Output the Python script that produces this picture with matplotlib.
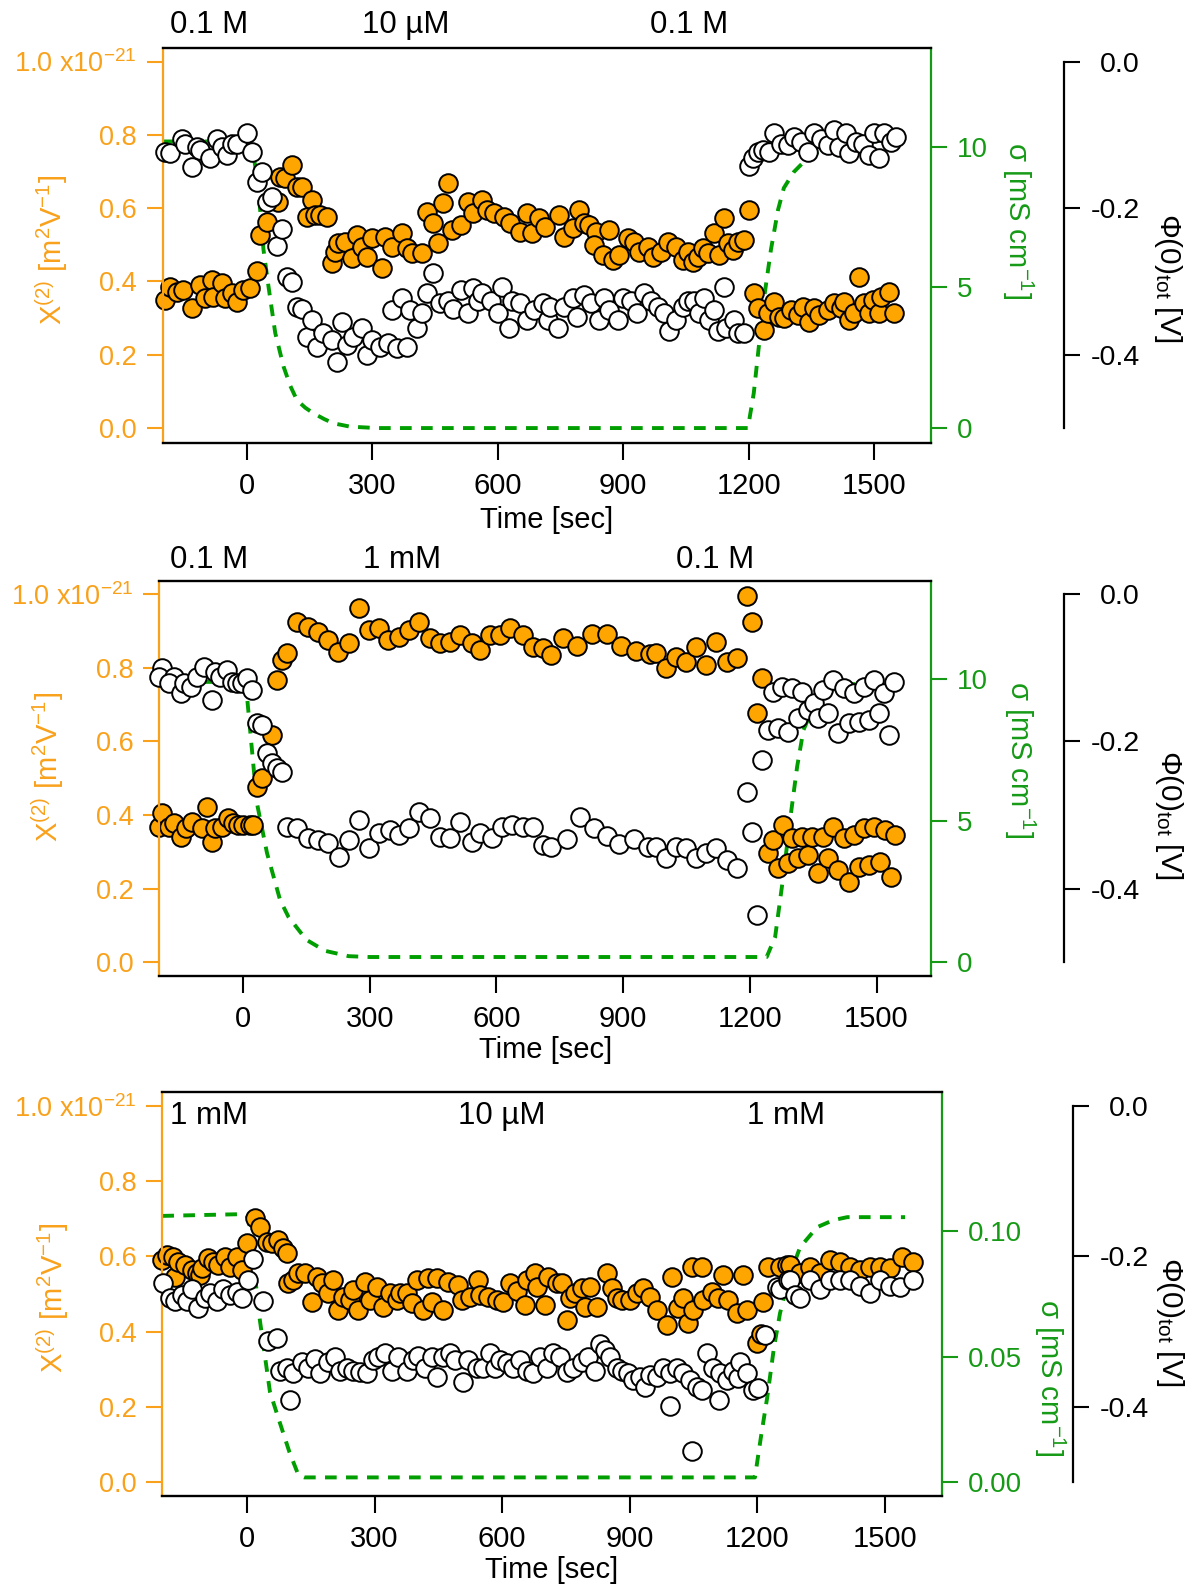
import matplotlib
matplotlib.use('Agg')
import matplotlib.pyplot as plt
import matplotlib.transforms as mtransforms

plt.rcParams['font.family'] = ['Liberation Sans', 'DejaVu Sans']
plt.rcParams['mathtext.fontset'] = 'custom'
plt.rcParams['mathtext.rm'] = 'Liberation Sans'
plt.rcParams['mathtext.it'] = 'Liberation Sans:italic'
plt.rcParams['mathtext.default'] = 'regular'

ORANGE = '#FFA500'
ORANGE_AX = '#F9A11B'
GREEN = '#009E00'
GREEN_AX = '#169A16'

# ---------------- Panel 1 : 0.1 M -> 10 uM -> 0.1 M ----------------
p1_chi = [(-196,0.349),(-184,0.385),(-167,0.371),(-153,0.376),(-131,0.327),(-112,0.390),(-100,0.355),(-83,0.404),
          (-81,0.357),(-59,0.395),(-52,0.355),(-35,0.368),(-23,0.344),(-9,0.376),(8,0.382),(25,0.428),
          (32,0.526),(48,0.563),(75,0.617),(80,0.685),(92,0.682),(108,0.717),(120,0.657),(132,0.657),(156,0.622),
          (144,0.575),(163,0.581),(175,0.581),(192,0.575),
          (204,0.450),(212,0.480),(219,0.504),(235,0.507),(252,0.464),(264,0.526),(276,0.494),(288,0.466),(300,0.518),
          (324,0.436),(331,0.521),(348,0.494),(372,0.532),(384,0.491),(396,0.477),(420,0.477),(432,0.589),(444,0.559),
          (456,0.504),(468,0.614),(480,0.668),(491,0.540),(511,0.554),(528,0.617),(542,0.586),(563,0.622),(575,0.594),
          (590,0.586),(614,0.575),(630,0.559),(654,0.535),(671,0.586),(683,0.532),(698,0.573),(714,0.548),
          (746,0.581),(758,0.521),(779,0.545),(794,0.594),(806,0.559),(818,0.554),(834,0.535),(830,0.499),(851,0.472),
          (866,0.540),(875,0.458),(889,0.472),(911,0.518),(925,0.507),(937,0.480),(958,0.494),(970,0.466),(990,0.480),
          (1006,0.507),(1025,0.494),(1042,0.458),(1054,0.480),(1066,0.453),(1078,0.466),(1090,0.491),(1102,0.477),
          (1116,0.532),(1128,0.472),(1140,0.573),(1150,0.504),(1162,0.485),(1174,0.507),(1188,0.513),(1200,0.594),
          (1212,0.368),(1221,0.327),(1236,0.267),(1245,0.314),(1260,0.344),(1272,0.303),(1284,0.300),(1301,0.322),
          (1317,0.308),(1329,0.330),(1343,0.289),(1355,0.327),(1367,0.308),(1389,0.322),(1403,0.341),(1420,0.327),
          (1427,0.344),(1439,0.294),(1451,0.314),(1463,0.412),(1475,0.341),(1487,0.314),(1497,0.349),(1511,0.314),
          (1516,0.357),(1535,0.371),(1547,0.314)]

p1_phi = [(-196,-0.124),(-184,-0.125),(-155,-0.105),(-148,-0.112),(-131,-0.144),(-119,-0.117),(-112,-0.121),
          (-88,-0.131),(-71,-0.105),(-59,-0.117),(-47,-0.128),(-35,-0.112),(-23,-0.112),(1,-0.097),(13,-0.124),
          (25,-0.165),(37,-0.151),(48,-0.192),(60,-0.185),(72,-0.251),(84,-0.228),(96,-0.294),(108,-0.301),
          (120,-0.335),(132,-0.337),(144,-0.376),(156,-0.353),(168,-0.390),(182,-0.371),(204,-0.380),(216,-0.410),
          (228,-0.356),(240,-0.387),(254,-0.376),(276,-0.363),(288,-0.401),(300,-0.380),(319,-0.390),(338,-0.384),
          (360,-0.391),(384,-0.390),(348,-0.339),(372,-0.323),(391,-0.339),(408,-0.363),(420,-0.343),(432,-0.316),
          (444,-0.288),(463,-0.330),(480,-0.326),(494,-0.337),(511,-0.312),(528,-0.343),(540,-0.309),(552,-0.326),
          (563,-0.316),(583,-0.326),(600,-0.343),(611,-0.308),(626,-0.363),(635,-0.326),(654,-0.330),(671,-0.353),
          (686,-0.339),(707,-0.330),(719,-0.353),(726,-0.335),(743,-0.364),(758,-0.335),(779,-0.322),(790,-0.349),
          (806,-0.319),(822,-0.330),(841,-0.353),(854,-0.322),(866,-0.339),(887,-0.353),(899,-0.322),(918,-0.326),
          (934,-0.343),(949,-0.316),(966,-0.326),(982,-0.335),(997,-0.343),(1009,-0.367),(1025,-0.353),(1042,-0.335),
          (1054,-0.326),(1068,-0.326),(1080,-0.343),(1092,-0.322),(1104,-0.353),(1116,-0.339),(1126,-0.367),
          (1140,-0.308),(1145,-0.363),(1164,-0.353),(1174,-0.371),(1188,-0.371),
          (1200,-0.142),(1209,-0.132),(1221,-0.124),(1233,-0.121),(1248,-0.124),(1260,-0.097),(1277,-0.112),
          (1294,-0.114),(1308,-0.103),(1325,-0.110),(1342,-0.124),(1356,-0.098),(1373,-0.105),(1390,-0.114),
          (1404,-0.094),(1416,-0.117),(1433,-0.098),(1440,-0.125),(1457,-0.110),(1473,-0.112),(1487,-0.128),
          (1499,-0.098),(1511,-0.131),(1523,-0.098),(1540,-0.110),(1552,-0.103)]

p1_sigma = [(-201,10.18),(8,10.18),(16,9.70),(24,8.93),(32,7.75),(40,6.33),(52,5.02),(68,3.38),(88,2.18),
            (104,1.5),(120,0.99),(140,0.72),(160,0.52),(185,0.32),(207,0.17),(247,0.05),(311,0.0),(1198,0.0),
            (1212,1.24),(1224,2.88),(1236,4.55),(1253,6.33),(1270,7.75),(1284,8.53),(1308,9.10),(1332,9.46),
            (1366,9.81),(1404,9.99),(1445,10.13),(1485,10.17),(1545,10.24)]
p1_notes = [(-90, '0.1 M'), (380, '10 µM'), (1057, '0.1 M')]

# ---------------- Panel 2 : 0.1 M -> 1 mM -> 0.1 M ----------------
p2_chi = [(-198,0.368),(-191,0.406),(-174,0.368),(-163,0.379),(-146,0.341),(-134,0.365),(-120,0.381),(-98,0.365),
          (-86,0.422),(-74,0.327),(-67,0.365),(-50,0.368),(-36,0.392),(-24,0.379),(-12,0.373),(0,0.373),(17,0.373),
          (24,0.373),(33,0.476),(45,0.500),(69,0.617),(81,0.767),(93,0.821),(105,0.840),
          (129,0.924),(153,0.910),(177,0.897),(201,0.875),(225,0.843),(251,0.867),(275,0.962),(299,0.902),(323,0.908),
          (344,0.875),(370,0.883),(394,0.902),(418,0.924),(442,0.881),(466,0.867),(490,0.870),(514,0.889),(543,0.867),
          (562,0.848),(586,0.889),(609,0.889),(633,0.908),(662,0.889),(686,0.856),(710,0.854),(729,0.835),(757,0.881),
          (791,0.859),(827,0.890),(863,0.892),(896,0.859),(930,0.845),(963,0.837),(977,0.840),(1001,0.799),
          (1025,0.829),(1049,0.815),(1073,0.856),(1097,0.807),(1121,0.870),(1145,0.815),(1169,0.826),(1193,0.994),
          (1205,0.925),(1217,0.677),(1228,0.772),
          (1243,0.297),(1255,0.332),(1267,0.256),(1279,0.373),(1291,0.270),(1300,0.338),(1315,0.284),(1324,0.341),
          (1338,0.292),(1348,0.341),(1362,0.243),(1374,0.341),(1386,0.284),(1398,0.368),(1410,0.251),(1422,0.338),
          (1434,0.218),(1446,0.346),(1458,0.259),(1470,0.365),(1482,0.264),(1494,0.368),(1508,0.273),(1520,0.360),
          (1534,0.232),(1544,0.346)]

p2_phi = [(-191,-0.101),(-198,-0.113),(-163,-0.113),(-174,-0.121),(-146,-0.135),(-139,-0.121),(-122,-0.126),
          (-108,-0.113),(-91,-0.099),(-74,-0.144),(-67,-0.106),(-55,-0.113),(-38,-0.103),(-26,-0.119),(-14,-0.121),
          (-2,-0.121),(10,-0.114),(22,-0.130),(33,-0.175),(45,-0.178),(57,-0.216),(69,-0.230),(81,-0.236),(93,-0.242),
          (105,-0.316),(129,-0.318),(153,-0.331),(177,-0.334),(201,-0.338),(227,-0.357),(251,-0.334),(275,-0.307),
          (299,-0.345),(323,-0.324),(347,-0.320),(370,-0.327),(394,-0.318),(418,-0.296),(442,-0.304),(466,-0.330),
          (490,-0.331),(514,-0.310),(543,-0.337),(562,-0.324),(590,-0.331),(614,-0.316),(638,-0.314),(662,-0.316),
          (686,-0.316),(710,-0.341),(729,-0.344),(767,-0.333),(798,-0.303),(831,-0.317),(863,-0.328),(891,-0.339),
          (925,-0.333),(958,-0.344),(977,-0.343),(1001,-0.358),(1025,-0.343),(1049,-0.345),(1073,-0.358),
          (1097,-0.352),(1121,-0.345),(1145,-0.361),(1169,-0.372),(1193,-0.269),(1205,-0.323),(1217,-0.436),
          (1229,-0.225),(1243,-0.185),(1255,-0.133),(1267,-0.182),(1276,-0.126),(1291,-0.187),(1300,-0.128),
          (1315,-0.168),(1324,-0.133),(1338,-0.158),(1351,-0.148),(1362,-0.168),(1374,-0.131),(1386,-0.162),
          (1398,-0.117),(1410,-0.189),(1422,-0.128),(1434,-0.175),(1446,-0.135),(1458,-0.174),(1470,-0.126),
          (1482,-0.171),(1494,-0.117),(1506,-0.162),(1518,-0.135),(1530,-0.191),(1542,-0.120)]

p2_sigma = [(-198,9.9),(5,9.9),(10,9.33),(17,8.2),(33,5.63),(57,3.86),(88,2.2),(108,1.6),(150,0.8),(194,0.41),
            (250,0.22),(300,0.19),(1240,0.19),(1260,0.9),(1279,3.0),(1296,5.1),(1312,6.9),(1327,8.2),(1350,9.0),
            (1380,9.5),(1420,9.8),(1540,9.9)]
p2_notes = [(-80, '0.1 M'), (377, '1 mM'), (1118, '0.1 M')]

# ---------------- Panel 3 : 1 mM -> 10 uM -> 1 mM ----------------
p3_chi = [(-200,0.590),(-188,0.603),(-174,0.598),(-169,0.545),(-162,0.584),(-146,0.576),(-129,0.563),(-118,0.555),
          (-110,0.550),(-106,0.568),(-92,0.595),(-80,0.584),(-68,0.576),(-52,0.598),(-40,0.571),(-24,0.598),
          (-12,0.563),(0,0.635),(19,0.701),(31,0.677),(47,0.637),(59,0.635),(73,0.643),(85,0.622),(94,0.608),
          (96,0.528),(108,0.536),(120,0.555),(136,0.555),(153,0.478),(165,0.545),(176,0.528),(190,0.502),(202,0.536),
          (214,0.457),(226,0.491),(242,0.483),(249,0.510),(261,0.457),(277,0.531),(289,0.483),(306,0.518),(320,0.465),
          (336,0.502),(353,0.483),(360,0.502),(376,0.502),(388,0.475),(400,0.536),(414,0.457),(426,0.542),(435,0.478),
          (447,0.542),(461,0.457),(473,0.531),(496,0.523),(505,0.483),(524,0.491),(543,0.536),(548,0.497),(567,0.491),
          (588,0.483),(602,0.478),(618,0.528),(635,0.507),(654,0.470),(658,0.536),(677,0.555),(682,0.518),(701,0.470),
          (708,0.545),(729,0.528),(741,0.528),(752,0.430),(759,0.489),(771,0.502),(788,0.515),(795,0.465),(806,0.518),
          (823,0.465),(846,0.555),(858,0.515),(870,0.489),(882,0.483),(900,0.483),(917,0.502),(931,0.515),(947,0.491),
          (964,0.457),(987,0.417),(999,0.545),(1013,0.462),(1025,0.489),(1037,0.422),(1046,0.571),(1049,0.457),
          (1070,0.571),(1072,0.483),(1093,0.505),(1107,0.489),(1119,0.550),(1131,0.483),(1152,0.449),(1166,0.550),
          (1176,0.457),(1199,0.369),(1208,0.393),(1213,0.478),(1225,0.571),(1253,0.571),(1270,0.576),(1277,0.576),
          (1300,0.555),(1324,0.571),(1347,0.555),(1371,0.590),(1394,0.584),(1418,0.571),(1441,0.563),(1465,0.571),
          (1488,0.571),(1512,0.568),(1540,0.598),(1566,0.584)]

p3_phi = [(-197,-0.236),(-181,-0.255),(-169,-0.259),(-153,-0.252),(-141,-0.259),(-129,-0.243),(-115,-0.269),
          (-99,-0.255),(-87,-0.249),(-71,-0.259),(-56,-0.243),(-40,-0.252),(-24,-0.248),(-12,-0.255),(2,-0.232),
          (14,-0.203),(38,-0.259),(49,-0.312),(71,-0.308),(78,-0.352),(94,-0.348),(101,-0.391),(108,-0.355),
          (129,-0.341),(143,-0.349),(160,-0.336),(172,-0.355),(190,-0.341),(207,-0.334),(219,-0.352),(235,-0.348),
          (249,-0.352),(266,-0.354),(282,-0.355),(296,-0.338),(308,-0.334),(324,-0.329),(341,-0.352),(355,-0.334),
          (376,-0.352),(390,-0.338),(402,-0.332),(418,-0.348),(435,-0.334),(447,-0.361),(461,-0.334),(477,-0.329),
          (489,-0.338),(508,-0.367),(520,-0.338),(541,-0.348),(555,-0.348),(571,-0.329),(583,-0.348),(595,-0.338),
          (611,-0.342),(625,-0.349),(642,-0.338),(658,-0.352),(672,-0.355),(689,-0.334),(705,-0.348),(719,-0.329),
          (736,-0.334),(752,-0.354),(766,-0.348),(788,-0.341),(802,-0.334),(818,-0.352),(830,-0.316),(842,-0.325),
          (853,-0.334),(870,-0.348),(882,-0.352),(896,-0.355),(907,-0.365),(924,-0.361),(936,-0.374),(947,-0.358),
          (964,-0.361),(978,-0.348),(994,-0.355),(994,-0.399),(1011,-0.348),(1025,-0.355),(1042,-0.365),
          (1046,-0.459),(1058,-0.374),(1070,-0.378),(1081,-0.328),(1096,-0.348),(1110,-0.391),(1112,-0.355),
          (1128,-0.365),(1143,-0.352),(1154,-0.362),(1159,-0.341),(1176,-0.355),(1190,-0.378),(1201,-0.375),
          (1218,-0.305),(1246,-0.241),(1253,-0.243),(1272,-0.232),(1277,-0.232),(1288,-0.252),(1300,-0.255),
          (1324,-0.232),(1347,-0.243),(1371,-0.232),(1394,-0.232),(1418,-0.232),(1441,-0.239),(1465,-0.249),
          (1488,-0.232),(1512,-0.239),(1535,-0.241),(1566,-0.232)]

p3_sigma = [(-199,0.1061),(-10,0.1068),(3,0.1057),(11,0.0964),(27,0.0686),(54,0.0361),(73,0.026),(100,0.012),
            (121,0.0029),(135,0.002),(1194,0.002),(1208,0.018),(1223,0.034),(1239,0.054),(1253,0.0674),
            (1275,0.082),(1300,0.0936),(1340,0.1016),(1378,0.1044),(1411,0.1056),(1547,0.1056)]
p3_notes = [(-89, '1 mM'), (600, '10 µM'), (1267, '1 mM')]

W, H = 1197, 1587
fig = plt.figure(figsize=(W / 100, H / 100), dpi=100)
fig.patch.set_facecolor('white')

MS = 13.4
MEW = 1.4


def px_rect(left, top, right, bottom):
    return [left / W, (H - bottom) / H, (right - left) / W, (bottom - top) / H]


def unzip(pts):
    return [p[0] for p in pts], [p[1] for p in pts]


def panel(rect, xlim, chi_lim, sig_lim, sig_ticks, sig_labels, phi_off, chi_pts, phi_pts, sig_pts,
          notes, note_y, chi_lab_pos, sig_lab_pos, phi_lab_pos, xlab_y):
    ax = fig.add_axes(rect)
    axs = ax.twinx()
    axp = ax.twinx()
    axs.set_zorder(1)
    ax.set_zorder(2)
    axp.set_zorder(3)
    for a in (ax, axs, axp):
        a.patch.set_visible(False)

    # sigma (green dashed)
    ts, ss = unzip(sig_pts)
    axs.plot(ts, ss, color=GREEN, lw=2.8, linestyle=(0, (3.0, 2.4)), solid_capstyle='butt')
    # chi (orange filled)
    tc, vc = unzip(chi_pts)
    ax.plot(tc, vc, 'o', ms=MS, mfc=ORANGE, mec='black', mew=MEW, linestyle='none', clip_on=False)
    # phi (white)
    tp, vp = unzip(phi_pts)
    axp.plot(tp, vp, 'o', ms=MS, mfc='white', mec='black', mew=MEW, linestyle='none', clip_on=False)

    ax.set_xlim(*xlim)
    ax.set_ylim(*chi_lim)
    axs.set_ylim(*sig_lim)
    axp.set_ylim((chi_lim[0] - 1) / 2, (chi_lim[1] - 1) / 2)

    # main axes spines
    ax.spines['right'].set_visible(False)
    ax.spines['left'].set_color(ORANGE_AX)
    ax.spines['left'].set_linewidth(1.6)
    for s in ('top', 'bottom'):
        ax.spines[s].set_color('black')
        ax.spines[s].set_linewidth(1.7)
    ax.set_xticks([0, 300, 600, 900, 1200, 1500])
    ax.set_xticklabels(['0', '300', '600', '900', '1200', '1500'])
    ax.tick_params(axis='x', direction='out', length=12, width=1.5, labelsize=21, pad=9, top=False)
    ax.set_yticks([0.0, 0.2, 0.4, 0.6, 0.8, 1.0])
    ax.set_yticklabels(['0.0', '0.2', '0.4', '0.6', '0.8', '1.0 x10$^{-21}$'])
    ax.tick_params(axis='y', direction='out', colors=ORANGE_AX, length=11.5, width=1.5, labelsize=19.5, pad=7)
    ax.set_ylabel('X$^{(2)}$ [m$^{2}$V$^{-1}$]', color=ORANGE_AX, fontsize=21,
                  va='center', ha='center', rotation=90, rotation_mode='anchor')
    ax.yaxis.set_label_coords(*chi_lab_pos)
    ax.set_xlabel('Time [sec]', fontsize=21, va='baseline')
    ax.xaxis.set_label_coords(0.5, xlab_y)

    # sigma axis
    for s in ('top', 'bottom', 'left'):
        axs.spines[s].set_visible(False)
    axs.spines['right'].set_color(GREEN_AX)
    axs.spines['right'].set_linewidth(1.6)
    axs.set_yticks(sig_ticks)
    axs.set_yticklabels(sig_labels)
    axs.tick_params(axis='y', direction='out', colors=GREEN_AX, length=11.5, width=1.5, labelsize=20, pad=7)
    axs.set_ylabel('σ [mS cm$^{-1}$]', color=GREEN_AX, fontsize=21, rotation=-90,
                   va='center', ha='center', rotation_mode='anchor')
    axs.yaxis.set_label_coords(*sig_lab_pos)

    # phi axis
    for s in ('top', 'bottom', 'left'):
        axp.spines[s].set_visible(False)
    axp.spines['right'].set_position(('outward', phi_off))
    axp.spines['right'].set_bounds(-0.5, 0.0)
    axp.spines['right'].set_linewidth(1.6)
    axp.set_yticks([0.0, -0.2, -0.4])
    axp.set_yticklabels(['0.0', '-0.2', '-0.4'], ha='right')
    axp.tick_params(axis='y', direction='out', colors='black', length=11.3, width=1.5, labelsize=20.5, pad=43)
    axp.set_ylabel('Φ(0)$_{tot}$ [V]', fontsize=21.5, rotation=-90,
                   va='center', ha='center', rotation_mode='anchor')
    axp.yaxis.set_label_coords(*phi_lab_pos)

    trans = mtransforms.blended_transform_factory(ax.transData, ax.transAxes)
    for t, s in notes:
        ax.text(t, note_y, s, transform=trans, ha='center', va='baseline', fontsize=22.5, clip_on=False)
    return ax


panel(px_rect(162.7, 48, 930.7, 442.7), (-201, 1635), (-0.04, 1.037), (-0.52, 13.5),
      [0, 5, 10], ['0', '5', '10'], 96.2, p1_chi, p1_phi, p1_sigma,
      p1_notes, 1.037, (-0.145, 0.488), (1.113, 0.564), (1.309, 0.417), -0.217)

panel(px_rect(159.3, 581, 931, 976), (-198, 1629), (-0.037, 1.035), (-0.48, 13.46),
      [0, 5, 10], ['0', '5', '10'], 96.0, p2_chi, p2_phi, p2_sigma,
      p2_notes, 1.033, (-0.144, 0.53), (1.115, 0.549), (1.309, 0.408), -0.208)

panel(px_rect(162.3, 1092.3, 941.7, 1496), (-199, 1633), (-0.037, 1.036), (-0.0054, 0.1553),
      [0.0, 0.05, 0.10], ['0.00', '0.05', '0.10'], 94.8, p3_chi, p3_phi, p3_sigma,
      p3_notes, 0.921, (-0.141, 0.49), (1.139, 0.294), (1.293, 0.431), -0.203)

fig.savefig('out.png', dpi=100, facecolor='white')
